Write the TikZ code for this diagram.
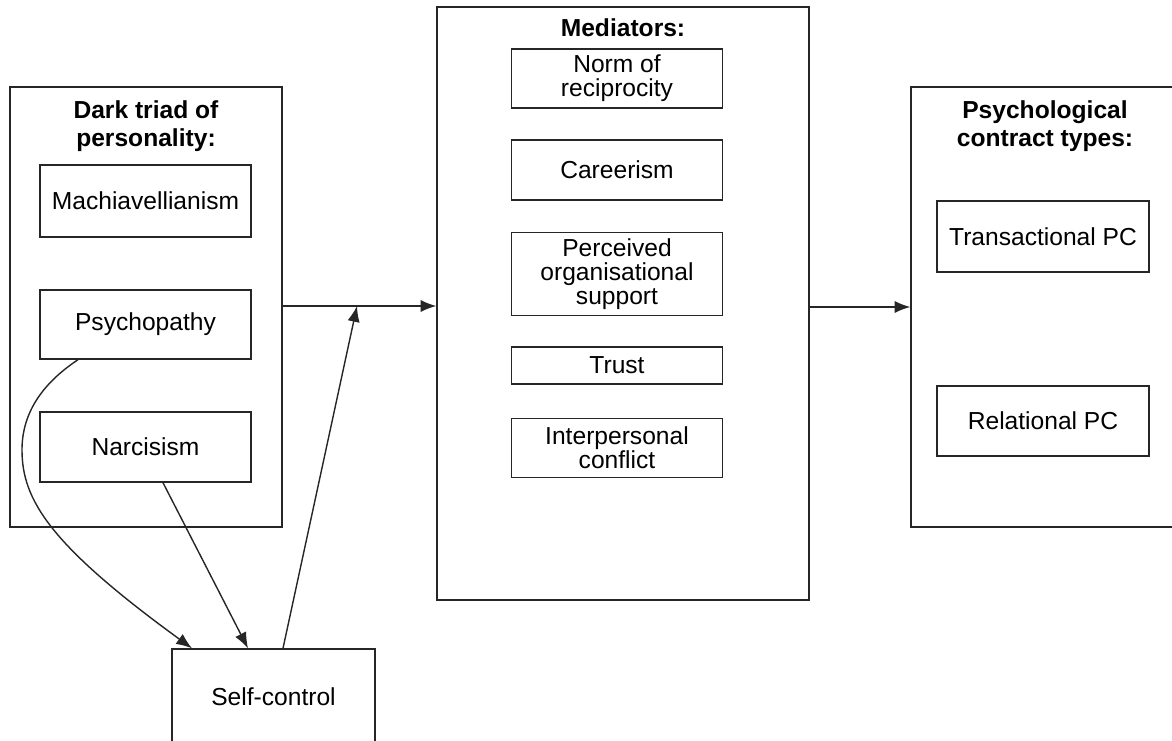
\documentclass[tikz,border=0pt]{standalone}
\usepackage{fontspec}
\setmainfont{Liberation Sans}
\usetikzlibrary{arrows.meta}

\begin{document}
\begin{tikzpicture}[x=0.02cm,y=-0.02cm,
    every node/.style={line width=0.8pt,draw=black!85},
    box/.style={draw,minimum width=4.22cm,align=center,inner sep=1pt,
      font=\fontsize{14}{13.5}\selectfont},
    group/.style={draw},
    head/.style={draw=none,align=center,font=\bfseries\fontsize{14}{16}\selectfont}]
  \useasboundingbox (0,0) rectangle (1172,740);
  \clip (0,0) rectangle (1172,740);
  \draw
    (146,307) node[group,minimum width=5.44cm,minimum height=8.8cm] (dark){}
    (146,126) node[head] (darktitle){Dark triad of\\personality:}
    (145.5,201) node[box,minimum height=1.44cm] (mach){Machiavellianism}
    (145.5,324.5) node[box,minimum height=1.38cm] (psy){Psychopathy}
    (145.5,447) node[box,minimum height=1.4cm] (nar){Narcisism}
    (623,303.5) node[group,minimum width=7.44cm,minimum height=11.86cm] (med){}
    (623,28) node[head] (medtitle){Mediators:}
    (617,78.5) node[box,minimum height=1.18cm] (norm){Norm of\\reciprocity}
    (617,170) node[box,minimum height=1.2cm] (career){Careerism}
    (617,274) node[box,minimum height=1.66cm] (pos){Perceived\\organisational\\support}
    (617,365.5) node[box,minimum height=0.74cm] (trust){Trust}
    (617,448) node[box,minimum height=1.18cm] (conflict){Interpersonal\\conflict}
    (1050.5,307) node[group,minimum width=5.58cm,minimum height=8.8cm] (pc){}
    (1045,126) node[head] (pctitle){Psychological\\contract types:}
    (1043,236.5) node[box,minimum width=4.24cm,minimum height=1.42cm] (trans){Transactional PC}
    (1043,421) node[box,minimum width=4.24cm,minimum height=1.4cm] (rel){Relational PC}
    (273.5,697) node[box,minimum width=4.06cm,minimum height=1.92cm] (self){Self-control};
  \coordinate (join) at (357,306);
  \coordinate (bend) at (22,450);
  \begin{scope}[line width=0.8pt,draw=black!85,-{Latex[length=9pt,width=7pt]}]
    \draw (dark.east |- join) -- (med.west |- join);
    \draw (med.east |- pc.west) -- (pc.west);
    \draw ([xshift=0.19cm]self.north) -- (join);
    \draw ([xshift=0.35cm]nar.south) -- ([xshift=-0.51cm]self.north);
    \draw ([xshift=-1.35cm]psy.south) .. controls (40,385) and (22,415) .. (bend)
      .. controls (22,500) and (50,545) .. ([xshift=-1.63cm]self.north);
  \end{scope}
\end{tikzpicture}
\end{document}
